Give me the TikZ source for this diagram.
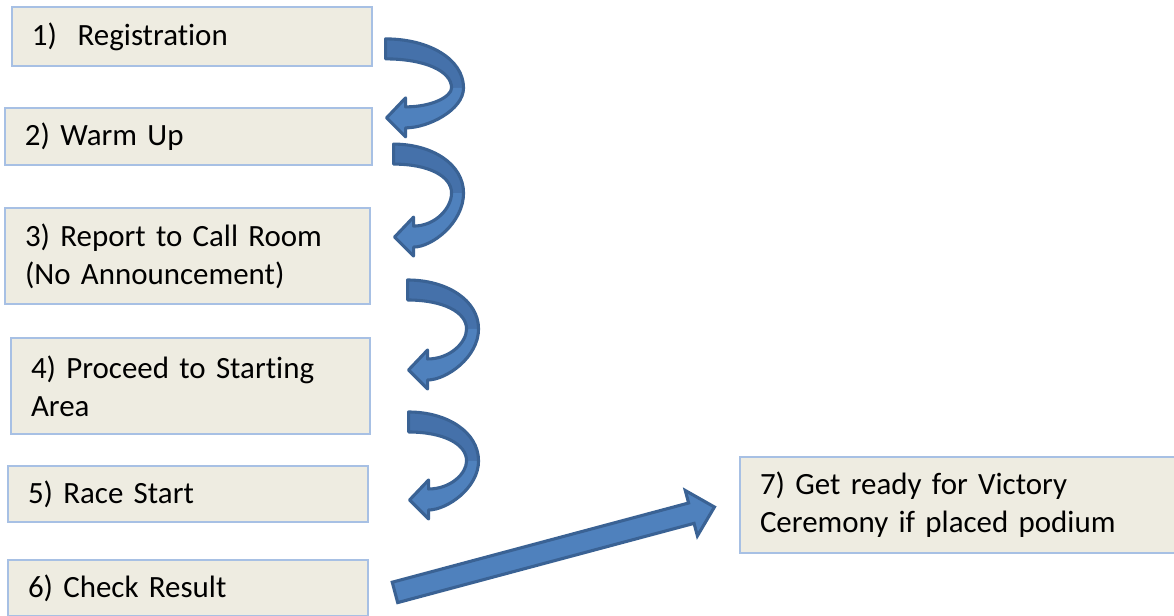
\documentclass[tikz,border=0pt]{standalone}
\usepackage{fontspec}
\setmainfont{Carlito}[Ligatures=NoCommon, WordSpace=0.85]
\usetikzlibrary{calc}

\definecolor{boxfill}{HTML}{EEECE1}
\definecolor{boxline}{HTML}{A7C0E4}
\definecolor{arrowfill}{HTML}{4F81BD}
\definecolor{arrowback}{HTML}{4571AA}
\definecolor{arrowline}{HTML}{3A6294}

\tikzset{
  stepbox/.style={draw=boxline, line width=0.8pt, fill=boxfill, align=left,
    inner xsep=0.5cm, font=\fontsize{22}{27}\selectfont},
  bigarrow/.style={fill=arrowfill, draw=arrowline, line width=2.2pt, line join=miter},
  pics/turnarrow/.style 2 args={code={
    % back face of the band
    \fill[arrowback, x=0.025cm, y=-0.025cm] (0,0) .. controls ({0.55*#1},0) and (#1,20) .. (#1,49)
      -- ({#1-12},49) .. controls ({#1-12},32) and ({0.5*#1},20) .. (0,20) -- cycle;
    % front face with the head
    \fill[arrowfill, x=0.025cm, y=-0.025cm] (#1,49) .. controls (#1,{49+0.55*(#2-39)}) and ({0.55*#1},{#2+10}) .. (20,{#2+10})
      -- (20,{#2+19}) -- (1,#2) -- (20,{#2-20}) -- (20,{#2-11})
      .. controls ({0.6*#1},{#2-11}) and ({#1-12},{49+0.45*(#2-60)}) .. ({#1-12},49) -- cycle;
    \draw[arrowline, line width=2.2pt, line join=round, x=0.025cm, y=-0.025cm]
      (0,0) .. controls ({0.55*#1},0) and (#1,20) .. (#1,49)
      .. controls (#1,{49+0.55*(#2-39)}) and ({0.55*#1},{#2+10}) .. (20,{#2+10})
      -- (20,{#2+19}) -- (1,#2) -- (20,{#2-20}) -- (20,{#2-11})
      .. controls ({0.6*#1},{#2-11}) and ({#1-12},{49+0.45*(#2-60)}) .. ({#1-12},49)
      .. controls ({#1-12},32) and ({0.5*#1},20) .. (0,20) -- cycle;
  }}
}

\begin{document}
\begin{tikzpicture}
  \useasboundingbox (0,0) rectangle (29.35,15.375);
  \clip (0,0) rectangle (29.35,15.375);

  \node[stepbox, text width=8cm, minimum height=1.475cm] (reg) at (4.8,14.4625) {1)\ \ Registration};
  \node[stepbox, text width=8.175cm, minimum height=1.425cm] (warm) at (4.7125,11.9625) {2) Warm Up};
  \node[stepbox, text width=8.125cm, minimum height=2.4cm] (call) at (4.6875,8.975) {3) Report to Call Room\\(No Announcement)};
  \node[stepbox, text width=7.975cm, minimum height=2.4cm] (start) at (4.7625,5.725) {4) Proceed to Starting\\Area};
  \node[stepbox, text width=8cm, minimum height=1.4cm] (race) at (4.7,3.025) {5) Race Start};
  \node[stepbox, text width=8cm, minimum height=1.4cm] (check) at (4.7,0.675) {6) Check Result};
  \node[stepbox, text width=10.5cm, minimum height=2.4cm] (victory) at (24.25,2.75) {7) Get ready for Victory\\Ceremony if placed podium};

  % turning arrows
  \pic at ($(reg.east)+(0.325,-0.06)$) {turnarrow={78}{79}};
  \pic at ($(warm.east)+(0.525,-0.19)$) {turnarrow={70}{93}};
  \pic at ($(call.east)+(0.925,-0.6)$) {turnarrow={71}{90}};
  \pic at ($(start.east)+(0.95,-0.65)$) {turnarrow={70}{88}};

  % result to ceremony
  \coordinate (tail) at ($(check.east)+(0.66,-0.11)$);
  \coordinate (tip) at ($(victory.west)+(-0.625,-0.05)$);
  \draw[bigarrow] let \p1=($(tip)-(tail)$), \n1={atan2(\y1,\x1)}, \n2={veclen(\x1,\y1)} in
    ($(tail)+({\n1+90}:7.5pt)$) -- ($(tail)+(\n1:{\n2-17pt})+({\n1+90}:7.5pt)$)
    -- ($(tail)+(\n1:{\n2-17pt})+({\n1+90}:16.7pt)$) -- (tip)
    -- ($(tail)+(\n1:{\n2-17pt})+({\n1-90}:16.7pt)$)
    -- ($(tail)+(\n1:{\n2-17pt})+({\n1-90}:7.5pt)$) -- ($(tail)+({\n1-90}:7.5pt)$) -- cycle;
\end{tikzpicture}
\end{document}
